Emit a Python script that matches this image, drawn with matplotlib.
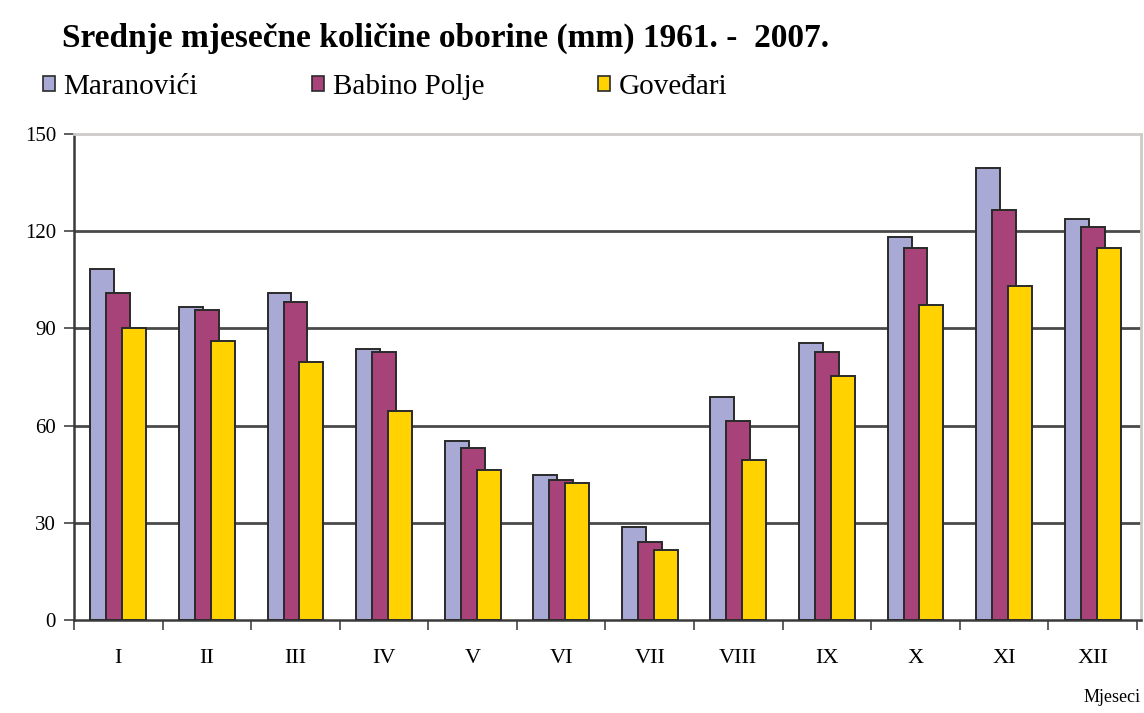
import numpy as np
import matplotlib
matplotlib.use('Agg')
import matplotlib.pyplot as plt
from matplotlib.patches import Patch

months = ['I', 'II', 'III', 'IV', 'V', 'VI', 'VII', 'VIII', 'IX', 'X', 'XI', 'XII']
maranovici = [108.3, 96.7, 101.0, 83.5, 55.2, 44.8, 28.6, 68.9, 85.4, 118.3, 139.4, 123.8]
babino_polje = [101.0, 95.7, 98.2, 82.6, 53.0, 43.2, 24.2, 61.4, 82.6, 114.7, 126.5, 121.4]
govedari = [90.0, 86.2, 79.5, 64.5, 46.3, 42.2, 21.6, 49.4, 75.3, 97.2, 103.2, 114.7]
series_names = ['Maranovići', 'Babino Polje', 'Goveđari']
colors = ['#A9A9D6', '#A8437A', '#FFD200']

plt.rcParams['font.family'] = ['Liberation Serif', 'DejaVu Serif']

fig = plt.figure(figsize=(11.44, 7.13), dpi=100)
ax = fig.add_axes([0.0647, 0.1304, 0.933, 0.6816])

x = np.arange(len(months))
width = 0.27
offset = 0.18
for i, vals in enumerate([maranovici, babino_polje, govedari]):
    ax.bar(x + (i - 1) * offset, vals, width, color=colors[i],
           edgecolor='#2a2a2a', linewidth=1.4, zorder=3 + i)

ax.set_xlim(-0.5, 11.55)
ax.set_ylim(0, 150)
ax.set_yticks(np.arange(0, 151, 30))
ax.set_xticks(x)
ax.set_xticklabels(months, fontsize=16)
ax.set_xticks(np.arange(-0.5, 12, 1), minor=True)
ax.tick_params(axis='x', which='major', length=0, pad=21)
ax.tick_params(axis='x', which='minor', length=7, width=1.2, color='#444444', direction='out')
ax.tick_params(axis='y', length=7, width=1.2, color='#444444', labelsize=15, pad=6)

for v in [30, 60, 90, 120]:
    ax.axhline(v, color='#4a4a4a', linewidth=2, zorder=1)

for s in ['top', 'right']:
    ax.spines[s].set_color('#cfcaca')
    ax.spines[s].set_linewidth(2)
for s in ['left', 'bottom']:
    ax.spines[s].set_color('#3a3a3a')
    ax.spines[s].set_linewidth(1.8)

fig.text(0.054, 0.946, 'Srednje mjesečne količine oborine (mm) 1961. -  2007.',
         fontsize=24, fontweight='bold', va='center', ha='left')

handles = [Patch(facecolor=c, edgecolor='#2a2a2a', linewidth=1.2) for c in colors]
fig.legend(handles, series_names, loc='center left', bbox_to_anchor=(0.027, 0.878),
           ncol=3, frameon=False, fontsize=21, handlelength=0.42, handleheight=0.42,
           handletextpad=0.3, columnspacing=3.9, borderaxespad=0)

fig.text(0.997, 0.022, 'Mjeseci', fontsize=13, ha='right', va='center')

fig.savefig('out.png', dpi=100)
